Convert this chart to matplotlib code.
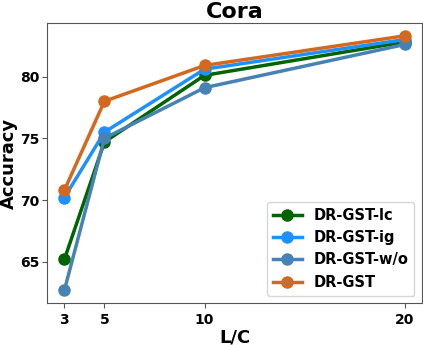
import matplotlib
matplotlib.use("Agg")
import matplotlib.pyplot as plt

# label rate per class
label_rate = [3, 5, 10, 20]

acc_lc = [65.2, 74.7, 80.1, 82.8]
acc_ig = [70.2, 75.5, 80.6, 83.0]
acc_wo = [62.7, 75.0, 79.1, 82.6]
acc_full = [70.8, 78.0, 80.9, 83.3]

names = ['DR-GST-lc', 'DR-GST-ig', 'DR-GST-w/o', 'DR-GST']
colors = ['darkgreen', 'dodgerblue', 'steelblue', 'chocolate']

fig = plt.figure(figsize=(4.23, 3.45), dpi=100)
ax = fig.add_axes([0.112, 0.122, 0.885, 0.811])
for vals, name, c in zip([acc_lc, acc_ig, acc_wo, acc_full], names, colors):
    ax.plot(label_rate, vals, marker='o', color=c, label=name, linewidth=2.5, markersize=8)

for s in ax.spines.values():
    s.set_color('#555555')
ax.tick_params(color='#555555')
ax.tick_params(axis='y', pad=2.5)

ax.set_xticks(label_rate)
ax.set_xticklabels([str(x) for x in label_rate], fontsize=10, fontweight='bold')
ax.set_yticks([65, 70, 75, 80])
ax.set_yticklabels(['65', '70', '75', '80'], fontsize=10, fontweight='bold')
ax.set_xlabel('L/C', fontsize=13, fontweight='bold', labelpad=1)
ax.set_ylabel('Accuracy', fontsize=13, fontweight='bold', labelpad=1)
ax.set_title('Cora', fontsize=16, fontweight='bold', pad=4)
ax.legend(loc='lower right', prop={'weight': 'bold', 'size': 10.5})

plt.savefig('out.png')
